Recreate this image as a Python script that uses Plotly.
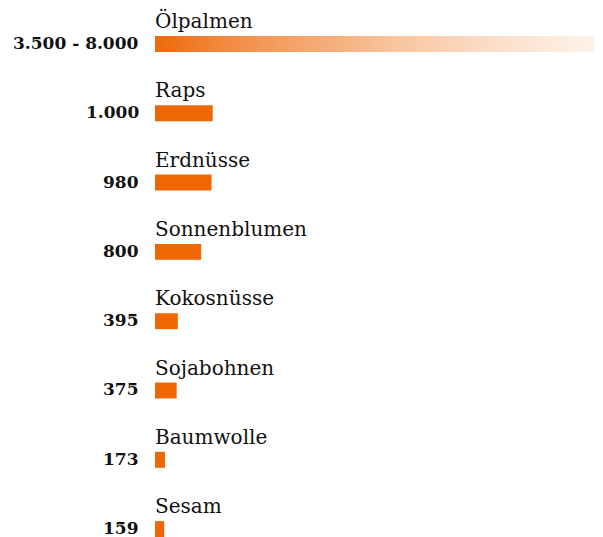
import plotly.graph_objects as go

categories = ["Ölpalmen", "Raps", "Erdnüsse", "Sonnenblumen", "Kokosnüsse", "Sojabohnen", "Baumwolle", "Sesam"]
values = [8000, 1000, 980, 800, 395, 375, 173, 159]
value_labels = ["3.500 - 8.000", "1.000", "980", "800", "395", "375", "173", "159"]

ORANGE = "#EF6703"
BAR_W = 0.23
n = len(categories)
ys = list(range(n))

fig = go.Figure()

# solid bars (all but the range item)
fig.add_trace(go.Bar(
    x=values[1:], y=ys[1:], orientation="h", width=BAR_W,
    marker=dict(color=ORANGE, line=dict(width=0)), hoverinfo="skip"))

# gradient bar for the range item
v0 = values[0]
y0 = ys[0]
fade = [[0, 1.0], [0.152, 0.77], [0.314, 0.6], [0.531, 0.38], [0.747, 0.21], [0.942, 0.086], [1, 0.05]]
fig.add_trace(go.Scatter(
    x=[0, v0, v0, 0, 0],
    y=[y0 - BAR_W / 2, y0 - BAR_W / 2, y0 + BAR_W / 2, y0 + BAR_W / 2, y0 - BAR_W / 2],
    mode="lines", line=dict(width=0), fill="toself",
    fillgradient=dict(type="horizontal", start=0, stop=v0,
                      colorscale=[[p, f"rgba(238,104,8,{a})"] for p, a in fade]),
    hoverinfo="skip"))

for i, (c, lab) in enumerate(zip(categories, value_labels)):
    fig.add_annotation(x=0, y=ys[i] - BAR_W / 2, text=c, showarrow=False,
                       xanchor="left", yanchor="bottom", xshift=-2, yshift=1,
                       font=dict(family="DejaVu Serif", size=20, color="#111"))
    fig.add_annotation(x=0, y=ys[i], text=f"<b>{lab}</b>", showarrow=False,
                       xanchor="right", yanchor="middle", xshift=-14, yshift=1,
                       font=dict(family="DejaVu Serif", size=17, color="#111"))

fig.update_layout(
    width=595, height=529, margin=dict(l=0, r=0, t=0, b=0),
    paper_bgcolor="white", plot_bgcolor="white", showlegend=False,
    xaxis=dict(range=[-2548, 7764], visible=False, fixedrange=True),
    yaxis=dict(range=[7.114, -0.519], visible=False, fixedrange=True),
)

fig.write_html("out.html")
